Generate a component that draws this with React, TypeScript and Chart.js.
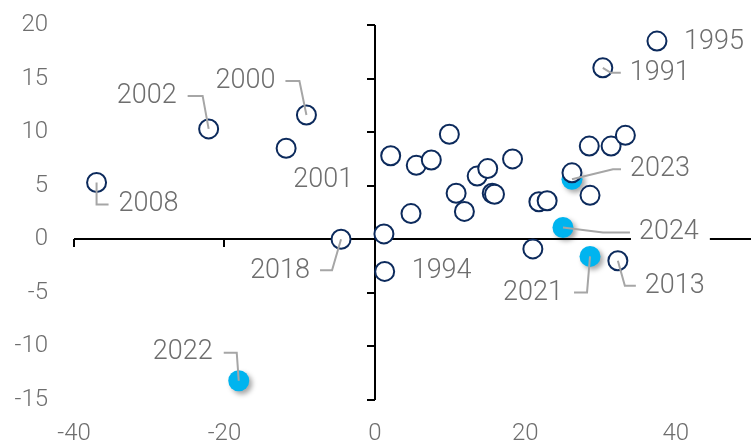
import React, { useEffect, useRef } from "react";
import { Chart, registerables } from "chart.js";

Chart.register(...registerables);

// ---- data ----
const xTickMarks = [-40, -20];
const yTickMarks = [-15, -10, -5, 5, 10, 15, 20];

const pastYears = [
  "1995", "1991", "2002", "2000", "2001", "2008", "2018", "1994", "2013",
  "", "", "", "", "", "", "", "", "", "", "", "", "", "", "", "", "", "", "", "", "",
];
const pastX = [
  37.5, 30.3, -22.1, -9.1, -11.8, -37.0, -4.5, 1.3, 32.3,
  1.2, 2.1, 5.5, 7.5, 9.9, 4.8, 10.8, 11.9, 13.6, 15.0, 15.6, 15.9, 18.3, 21.8, 22.9, 26.2, 28.6, 28.5, 31.4, 33.3, 21.0,
];
const pastY = [
  18.5, 16.0, 10.3, 11.6, 8.5, 5.3, 0.0, -3.0, -2.0,
  0.5, 7.8, 6.9, 7.4, 9.8, 2.4, 4.3, 2.6, 5.9, 6.6, 4.3, 4.2, 7.5, 3.5, 3.6, 6.2, 4.1, 8.7, 8.7, 9.7, -0.9,
];

const recentYears = ["2021", "2022", "2023", "2024"];
const recentX = [28.6, -18.1, 26.2, 25.0];
const recentY = [-1.6, -13.2, 5.6, 1.1];

// label placement (pixel offsets from the point)
type Lay = { path: number[][]; tx: number; ty: number; align: CanvasTextAlign; box?: boolean };
const labelLayout: Record<string, Lay> = {
  "1995": { path: [], tx: 27, ty: 1, align: "left" },
  "1991": { path: [[0, 0], [8, 5], [18, 5]], tx: 27, ty: 5, align: "left" },
  "2023": { path: [[0, 0], [41, -10], [49, -10]], tx: 58, ty: -10, align: "left" },
  "2024": { path: [[0, 0], [40, 5], [67, 5]], tx: 76, ty: 5, align: "left", box: true },
  "2021": { path: [[0, 0], [-3, 36], [-16, 36]], tx: -27, ty: 37, align: "right" },
  "2013": { path: [[0, 0], [7, 25], [18, 25]], tx: 27, ty: 26, align: "left" },
  "1994": { path: [], tx: 27, ty: 0, align: "left" },
  "2018": { path: [[0, 0], [-9, 31], [-21, 31]], tx: -31, ty: 32, align: "right" },
  "2022": { path: [[0, 0], [-2, -28], [-15, -28]], tx: -26, ty: -28, align: "right" },
  "2008": { path: [[0, 0], [0, 22], [12, 22]], tx: 22, ty: 22, align: "left" },
  "2002": { path: [[0, 0], [-6, -33], [-21, -33]], tx: -32, ty: -33, align: "right" },
  "2000": { path: [[0, 0], [-7, -34], [-21, -34]], tx: -31, ty: -34, align: "right" },
  "2001": { path: [], tx: 67, ty: 32, align: "right" },
};

const NAVY = "#0c2a5c";
const CYAN = "#00b4ef";
const TEXT = "#6e6e6e";
const LEADER = "#a6a6a6";

const axesPlugin = {
  id: "crossAxes",
  beforeDatasetsDraw(chart: any) {
    const { ctx, chartArea } = chart;
    const xs = chart.scales.x;
    const ys = chart.scales.y;
    const x0 = Math.round(xs.getPixelForValue(0));
    const y0 = Math.round(ys.getPixelForValue(0));
    ctx.save();
    ctx.strokeStyle = "#000";
    ctx.lineWidth = 2;
    ctx.beginPath();
    ctx.moveTo(xs.getPixelForValue(-40), y0);
    ctx.lineTo(chartArea.right, y0);
    ctx.moveTo(x0, ys.getPixelForValue(20));
    ctx.lineTo(x0, ys.getPixelForValue(-15));
    xTickMarks.forEach((v) => {
      const px = Math.round(xs.getPixelForValue(v));
      ctx.moveTo(px, y0);
      ctx.lineTo(px, y0 + 8);
    });
    yTickMarks.forEach((v) => {
      const py = Math.round(ys.getPixelForValue(v));
      ctx.moveTo(x0, py);
      ctx.lineTo(x0 - 8, py);
    });
    ctx.stroke();
    ctx.restore();
  },
};

const shadowPlugin = {
  id: "dotShadow",
  beforeDatasetDraw(chart: any, args: any) {
    if (args.index === 1) {
      const ctx = chart.ctx;
      ctx.save();
      ctx.shadowColor = "rgba(0,0,0,0.35)";
      ctx.shadowBlur = 5;
      ctx.shadowOffsetX = 3;
      ctx.shadowOffsetY = 3;
    }
  },
  afterDatasetDraw(chart: any, args: any) {
    if (args.index === 1) chart.ctx.restore();
  },
};

const labelPlugin = {
  id: "yearLabels",
  afterDatasetsDraw(chart: any) {
    const { ctx } = chart;
    const xs = chart.scales.x;
    const ys = chart.scales.y;
    const items: { year: string; x: number; y: number }[] = [];
    pastYears.forEach((yr, i) => { if (yr) items.push({ year: yr, x: pastX[i], y: pastY[i] }); });
    recentYears.forEach((yr, i) => items.push({ year: yr, x: recentX[i], y: recentY[i] }));
    ctx.save();
    ctx.font = "300 27px Roboto";
    ctx.textBaseline = "middle";
    items.forEach((it) => {
      const lay = labelLayout[it.year];
      if (!lay) return;
      const px = xs.getPixelForValue(it.x);
      const py = ys.getPixelForValue(it.y);
      if (lay.box) {
        const w = ctx.measureText(it.year).width;
        const last = lay.path[lay.path.length - 1];
        ctx.fillStyle = "#fff";
        ctx.fillRect(px + last[0] + 1, py + lay.ty - 15, lay.tx - last[0] + w + 10, 30);
      }
      if (lay.path.length) {
        ctx.strokeStyle = LEADER;
        ctx.lineWidth = 2;
        ctx.beginPath();
        lay.path.forEach((p, k) => {
          if (k === 0) ctx.moveTo(px + p[0], py + p[1]);
          else ctx.lineTo(px + p[0], py + p[1]);
        });
        ctx.stroke();
      }
      ctx.fillStyle = TEXT;
      ctx.textAlign = lay.align;
      ctx.fillText(it.year, px + lay.tx, py + lay.ty);
    });
    ctx.restore();
  },
};

export default function App() {
  const ref = useRef<HTMLCanvasElement>(null);
  useEffect(() => {
    if (!ref.current) return;
    const chart = new Chart(ref.current, {
      type: "scatter",
      data: {
        datasets: [
          {
            label: "past",
            data: pastX.map((x, i) => ({ x, y: pastY[i] })),
            pointRadius: 9.5,
            pointBorderWidth: 2,
            pointBackgroundColor: "#ffffff",
            pointBorderColor: NAVY,
            clip: false as any,
          },
          {
            label: "recent",
            data: recentX.map((x, i) => ({ x, y: recentY[i] })),
            pointRadius: 10.5,
            pointBorderWidth: 0,
            pointBackgroundColor: CYAN,
            pointBorderColor: CYAN,
            clip: false as any,
          },
        ],
      },
      options: {
        animation: false,
        responsive: true,
        maintainAspectRatio: false,
        layout: { autoPadding: false, padding: { top: 25, right: 0, left: 0, bottom: 0 } },
        plugins: { legend: { display: false }, tooltip: { enabled: false } },
        scales: {
          x: {
            type: "linear",
            min: -40,
            max: 50,
            grid: { display: false, drawTicks: false },
            border: { display: false },
            ticks: {
              stepSize: 20,
              includeBounds: false,
              color: TEXT,
              padding: 20,
              font: { family: "Roboto", size: 24, weight: "300" as any },
            },
            afterFit: (s: any) => {
              s.height = 45;
              s.paddingLeft = 0;
              s.paddingRight = 0;
            },
          },
          y: {
            type: "linear",
            min: -15,
            max: 20,
            grid: { display: false, drawTicks: false },
            border: { display: false },
            ticks: {
              stepSize: 5,
              color: TEXT,
              padding: 26,
              font: { family: "Roboto", size: 24, weight: "300" as any },
            },
            afterFit: (s: any) => {
              s.width = 74;
              s.paddingTop = 0;
              s.paddingBottom = 0;
            },
          },
        },
      },
      plugins: [axesPlugin, shadowPlugin, labelPlugin],
    });
    return () => chart.destroy();
  }, []);
  return (
    <div style={{ position: "fixed", left: 0, top: 0, width: 751, height: 445, background: "#fff" }}>
      <canvas ref={ref} />
    </div>
  );
}
